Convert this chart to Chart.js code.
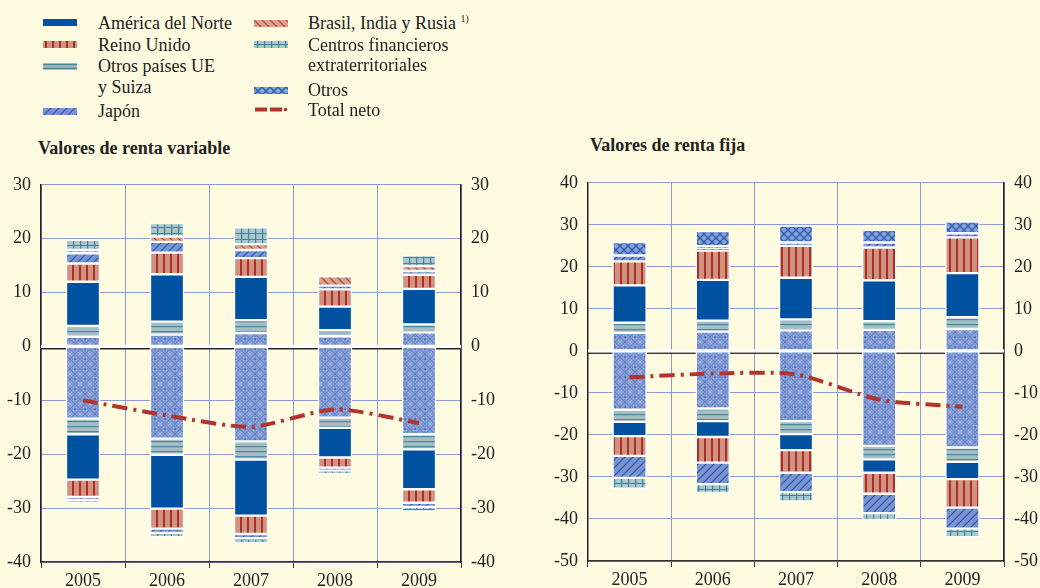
<!DOCTYPE html>
<html><head><meta charset="utf-8">
<script src="https://cdn.jsdelivr.net/npm/chart.js@4.4.1/dist/chart.umd.min.js"></script>
<style>
html,body{margin:0;padding:0;background:#fefbe0;}
body{width:1040px;height:588px;position:relative;overflow:hidden;font-family:'Liberation Serif','Times New Roman',serif;color:#222;}
.t{position:absolute;font-size:18px;line-height:20px;white-space:nowrap;}
.b{font-weight:bold;}
.sw{position:absolute;}
#c1,#c2{position:absolute;}
.sup{font-size:10px;line-height:0;position:relative;top:-7px;}
</style></head><body>

<canvas class="sw" id="s1" width="34" height="7" style="left:43px;top:19px"></canvas>
<div class="t" style="left:98px;top:13px">América del Norte</div>
<canvas class="sw" id="s2" width="34" height="7" style="left:43px;top:41px"></canvas>
<div class="t" style="left:98px;top:35px">Reino Unido</div>
<canvas class="sw" id="s3" width="34" height="7" style="left:43px;top:63px"></canvas>
<div class="t" style="left:98px;top:56px">Otros países UE</div>
<div class="t" style="left:98px;top:77px">y Suiza</div>
<canvas class="sw" id="s4" width="34" height="7" style="left:43px;top:108px"></canvas>
<div class="t" style="left:98px;top:101px">Japón</div>

<canvas class="sw" id="s5" width="34" height="7" style="left:254px;top:20px"></canvas>
<div class="t" style="left:308px;top:13px">Brasil, India y Rusia <span class="sup">1)</span></div>
<canvas class="sw" id="s6" width="34" height="7" style="left:254px;top:41px"></canvas>
<div class="t" style="left:308px;top:35px">Centros financieros</div>
<div class="t" style="left:308px;top:55px">extraterritoriales</div>
<canvas class="sw" id="s7" width="34" height="7" style="left:254px;top:87px"></canvas>
<div class="t" style="left:308px;top:80px">Otros</div>
<canvas class="sw" id="s8" width="34" height="7" style="left:254px;top:106px"></canvas>
<div class="t" style="left:308px;top:100px">Total neto</div>

<div class="t b" style="left:38px;top:138px">Valores de renta variable</div>
<div class="t b" style="left:590px;top:135px">Valores de renta fija</div>

<canvas id="c1" width="520" height="418"></canvas>
<canvas id="c2" width="520" height="418"></canvas>

<script>
// ---------- DATA ----------
const years = ['2005','2006','2007','2008','2009'];

// Valores de renta variable (positive / negative components)
const rvOtrosPos   = [1.8, 2.2, 2.5, 1.9, 2.6];
const rvUEPos      = [2.0, 2.4, 2.4, 1.1, 1.5];
const rvNortePos   = [8.2, 8.8, 8.0, 4.4, 6.6];
const rvRUPos      = [3.4, 4.0, 3.5, 3.2, 2.6];
const rvJaponPos   = [1.9, 2.0, 1.5, 0.7, 0.7];
const rvBRIPos     = [0.6, 1.0, 1.1, 1.7, 0.9];
const rvCFPos      = [1.9, 2.5, 3.1, 0.0, 2.0];
const rvOtros2Pos  = [0, 0, 0, 0, 0];
const rvOtrosNeg   = [-13.4, -17.1, -17.6, -13.2, -16.3];
const rvUENeg      = [-2.9, -3.0, -3.4, -1.9, -2.8];
const rvNorteNeg   = [-8.4, -10.0, -10.4, -5.5, -7.4];
const rvRUNeg      = [-3.2, -3.7, -3.4, -1.9, -2.5];
const rvJaponNeg   = [-0.6, -0.8, -0.8, -0.5, -0.8];
const rvBRINeg     = [0, 0, 0, 0, 0];
const rvCFNeg      = [-0.6, -0.8, -0.9, -0.7, -0.8];
const rvTotal      = [-10.0, -12.8, -14.9, -11.7, -14.2];

// Valores de renta fija
const rfOtrosPos   = [4.3, 4.6, 4.9, 5.0, 5.2];
const rfUEPos      = [2.4, 2.6, 2.6, 2.1, 2.8];
const rfNortePos   = [8.9, 9.7, 9.9, 9.7, 10.5];
const rfRUPos      = [5.7, 7.0, 7.6, 7.8, 8.5];
const rfJaponPos   = [1.4, 0.5, 0.8, 1.2, 1.0];
const rfBRIPos     = [0, 0.5, 0, 0, 0];
const rfCFPos      = [0, 0, 0, 0, 0];
const rfOtros2Pos  = [3.2, 3.6, 4.0, 3.0, 2.8];
const rfOtrosNeg   = [-14.0, -13.7, -16.7, -22.6, -23.0];
const rfUENeg      = [-2.9, -3.0, -3.1, -3.2, -3.4];
const rfNorteNeg   = [-3.4, -3.8, -3.8, -3.2, -4.1];
const rfRUNeg      = [-4.7, -6.1, -5.4, -5.0, -6.8];
const rfJaponNeg   = [-5.2, -5.1, -4.6, -4.6, -5.0];
const rfBRINeg     = [0, 0, 0, 0, 0];
const rfCFNeg      = [-2.6, -2.1, -2.2, -1.7, -2.0];
const rfTotal      = [-6.3, -5.4, -5.6, -11.6, -13.3];

const rvTicks = {min:-40, max:30, step:10};
const rfTicks = {min:-50, max:40, step:10};

// ---------- STYLE ----------
const FONT = "'Liberation Serif','Times New Roman',serif";
const GRID = '#8d9cd2';
const RED = '#b3332d';

function tile(w,h,draw){const c=document.createElement('canvas');c.width=w;c.height=h;const g=c.getContext('2d');draw(g,w,h);return c;}
const tiles = {
  norte: tile(4,4,(g,w,h)=>{g.fillStyle='#00519f';g.fillRect(0,0,w,h);}),
  ru: tile(7,7,(g,w,h)=>{g.fillStyle='#d3917f';g.fillRect(0,0,w,h);g.fillStyle='#a8302a';g.fillRect(2,0,2,h);}),
  ue: tile(6,5,(g,w,h)=>{g.fillStyle='#a5bdc5';g.fillRect(0,0,w,h);g.fillStyle='#4a8797';g.fillRect(0,2,w,1.2);}),
  japon: tile(8,8,(g,w,h)=>{g.fillStyle='#7a94d0';g.fillRect(0,0,w,h);g.strokeStyle='#2a58ad';g.lineWidth=1.2;
    g.beginPath();g.moveTo(0,h);g.lineTo(w,0);g.moveTo(-2,2);g.lineTo(2,-2);g.moveTo(w-2,h+2);g.lineTo(w+2,h-2);g.stroke();}),
  bri: tile(8,8,(g,w,h)=>{g.fillStyle='#d8a08f';g.fillRect(0,0,w,h);g.strokeStyle='#b0443a';g.lineWidth=1.2;
    g.beginPath();g.moveTo(0,0);g.lineTo(w,h);g.moveTo(-2,h-2);g.lineTo(2,h+2);g.moveTo(w-2,-2);g.lineTo(w+2,2);g.stroke();}),
  cf: tile(7,6,(g,w,h)=>{g.fillStyle='#a9c6cc';g.fillRect(0,0,w,h);g.fillStyle='#3f8696';g.fillRect(3,0,1.2,h);g.fillRect(0,3,w,1);}),
  otros: tile(10,10,(g,w,h)=>{g.fillStyle='#8199d2';g.fillRect(0,0,w,h);
    g.strokeStyle='#a8bae4';g.lineWidth=0.8;g.beginPath();g.moveTo(0,0);g.lineTo(w,h);g.moveTo(w,0);g.lineTo(0,h);g.stroke();
    g.strokeStyle='#5d80c6';g.lineWidth=0.8;g.beginPath();g.moveTo(0,h/2);g.lineTo(w/2,0);g.lineTo(w,h/2);g.lineTo(w/2,h);g.closePath();g.stroke();
    g.fillStyle='#1f4f9f';g.fillRect(4.3,4.3,1.5,1.5);}),
  otros2: tile(8,8,(g,w,h)=>{g.fillStyle='#88a0d8';g.fillRect(0,0,w,h);g.strokeStyle='#2a5cae';g.lineWidth=1.3;
    g.beginPath();g.moveTo(0,0);g.lineTo(w,h);g.moveTo(w,0);g.lineTo(0,h);g.stroke();})
};
function pat(ctx,name){return ctx.createPattern(tiles[name],'repeat');}

// legend swatches
function swatch(id,name){const c=document.getElementById(id);const g=c.getContext('2d');g.fillStyle=pat(g,name);g.fillRect(0,0,c.width,c.height);}
swatch('s1','norte');swatch('s2','ru');swatch('s4','japon');swatch('s5','bri');swatch('s6','cf');swatch('s7','otros2');
(function(){const c=document.getElementById('s3');const g=c.getContext('2d');g.fillStyle='#a5bdc5';g.fillRect(0,0,34,7);g.fillStyle='#4a8797';g.fillRect(0,1,34,1.3);g.fillRect(0,4.7,34,1.3);})();
(function(){const c=document.getElementById('s8');const g=c.getContext('2d');g.strokeStyle=RED;g.lineWidth=4;g.lineCap='butt';
  g.beginPath();g.moveTo(1,3.5);g.lineTo(13,3.5);g.moveTo(16,3.5);g.lineTo(28,3.5);g.stroke();g.fillStyle=RED;g.beginPath();g.arc(31.5,3.5,1.8,0,Math.PI*2);g.fill();})();

const zeroLine = {id:'zeroLine', beforeDatasetsDraw(ch){
  const y=ch.scales.y.getPixelForValue(0);const a=ch.chartArea;const g=ch.ctx;g.save();
  g.fillStyle='#222';g.fillRect(a.left,y+1.5,a.right-a.left,1.5);
  g.fillStyle='#ffffff';g.fillRect(a.left,y-1.5,a.right-a.left,3);g.restore();}};

function make(cv, S, T, P){
  const ctx=cv.getContext('2d');
  const bar=(label,data,p)=>({type:'bar',label,data,backgroundColor:pat(ctx,p),borderColor:'#ffffff',borderWidth:1.5,borderSkipped:false,stack:'s',barThickness:34,order:2});
  const font={family:FONT,size:18};
  return new Chart(ctx,{
    data:{labels:years,datasets:[
      {type:'line',label:'Total neto',data:S.total,borderColor:RED,borderWidth:4,borderDash:[15,6,3,6],pointRadius:0,tension:0.25,fill:false,order:0},
      bar('Otros',S.otrosPos,'otros'),
      bar('Otros países UE y Suiza',S.uePos,'ue'),
      bar('América del Norte',S.nortePos,'norte'),
      bar('Reino Unido',S.ruPos,'ru'),
      bar('Japón',S.japonPos,'japon'),
      bar('Brasil, India y Rusia',S.briPos,'bri'),
      bar('Centros financieros extraterritoriales',S.cfPos,'cf'),
      bar('Otros',S.otros2Pos,'otros2'),
      bar('Otros',S.otrosNeg,'otros'),
      bar('Otros países UE y Suiza',S.ueNeg,'ue'),
      bar('América del Norte',S.norteNeg,'norte'),
      bar('Reino Unido',S.ruNeg,'ru'),
      bar('Japón',S.japonNeg,'japon'),
      bar('Brasil, India y Rusia',S.briNeg,'bri'),
      bar('Centros financieros extraterritoriales',S.cfNeg,'cf')
    ]},
    options:{
      responsive:false,animation:false,
      layout:{padding:{top:15,left:0,right:0,bottom:0}},
      plugins:{legend:{display:false},tooltip:{enabled:false}},
      scales:{
        x:{stacked:true,offset:true,
           grid:{offset:true,color:GRID,lineWidth:1,tickColor:'#333',tickLength:6},
           border:{color:'#333',width:1.5},
           ticks:{font,color:'#222',padding:2},
           afterFit(s){s.height=P.xh;}},
        y:{stacked:true,position:'left',min:T.min,max:T.max,
           ticks:{stepSize:T.step,font,color:'#222',padding:10},
           grid:{color:c=>c.tick&&c.tick.value===0?'rgba(0,0,0,0)':GRID,lineWidth:1,drawTicks:false},
           border:{color:'#222',width:1.5},
           afterFit(s){s.width=P.yl;}},
        y2:{position:'right',min:T.min,max:T.max,
           ticks:{stepSize:T.step,font,color:'#222',padding:10},
           grid:{drawOnChartArea:false,drawTicks:false},
           border:{color:'#222',width:1.5},
           afterFit(s){s.width=P.yr;}}
      }
    },
    plugins:[zeroLine]
  });
}

// place the canvas so that the plot area lands on the reference's frame
function place(id, S, T, P){
  const cv=document.getElementById(id);
  let left=P.L-P.yl, top=P.T-15, w=P.yl+(P.R-P.L)+P.yr, h=P.B-P.T+15+P.xh;
  const set=()=>{cv.style.left=left+'px';cv.style.top=top+'px';cv.width=Math.round(w);cv.height=Math.round(h);};
  set(); let ch=make(cv,S,T,P);
  for(let i=0;i<4;i++){
    const a=ch.chartArea;
    const pl=left+a.left, pr=left+a.right, pt=top+a.top, pb=top+a.bottom;
    if(Math.abs(pl-P.L)<0.5&&Math.abs(pr-P.R)<0.5&&Math.abs(pt-P.T)<0.5&&Math.abs(pb-P.B)<0.5)break;
    ch.destroy();
    const dl=P.L-pl, dr=P.R-pr, dt=P.T-pt, db=P.B-pb;
    left+=dl; w+=dr-dl; top+=dt; h+=db-dt;
    set(); ch=make(cv,S,T,P);
  }
}

place('c1',{otrosPos:rvOtrosPos,uePos:rvUEPos,nortePos:rvNortePos,ruPos:rvRUPos,japonPos:rvJaponPos,briPos:rvBRIPos,cfPos:rvCFPos,otros2Pos:rvOtros2Pos,
  otrosNeg:rvOtrosNeg,ueNeg:rvUENeg,norteNeg:rvNorteNeg,ruNeg:rvRUNeg,japonNeg:rvJaponNeg,briNeg:rvBRINeg,cfNeg:rvCFNeg,total:rvTotal},
  rvTicks,{L:41,R:461,T:185,B:562,xh:26,yl:41,yr:59});
place('c2',{otrosPos:rfOtrosPos,uePos:rfUEPos,nortePos:rfNortePos,ruPos:rfRUPos,japonPos:rfJaponPos,briPos:rfBRIPos,cfPos:rfCFPos,otros2Pos:rfOtros2Pos,
  otrosNeg:rfOtrosNeg,ueNeg:rfUENeg,norteNeg:rfNorteNeg,ruNeg:rfRUNeg,japonNeg:rfJaponNeg,briNeg:rfBRINeg,cfNeg:rfCFNeg,total:rfTotal},
  rfTicks,{L:588,R:1004,T:183,B:561,xh:27,yl:68,yr:36});
</script>
</body></html>
